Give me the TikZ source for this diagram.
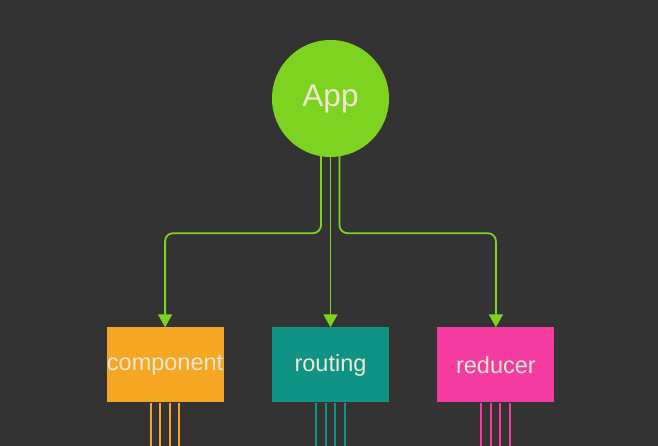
\documentclass[tikz,border=0pt]{standalone}
\usepackage{fontspec}
\setmainfont{Liberation Sans}
\usepackage{tikz}
\usetikzlibrary{positioning}
\usetikzlibrary{arrows.meta}
\definecolor{bgdark}{HTML}{333333}
\definecolor{appgreen}{HTML}{7ED321}
\definecolor{comporange}{HTML}{F5A623}
\definecolor{routeteal}{HTML}{0E9384}
\definecolor{reducepink}{HTML}{F43B9F}
\definecolor{labelcream}{HTML}{ECE8D2}

\tikzset{
  part/.style={rectangle, minimum width=117pt, minimum height=75pt, inner sep=0pt,
    text=labelcream, font=\fontsize{23.5}{26}\selectfont},
  flow/.style={draw=appgreen, line width=1.8pt, rounded corners=8pt,
    -{Triangle[width=14pt,length=13pt]}},
}

\begin{document}
\begin{tikzpicture}[x=1pt,y=1pt]
  \fill[bgdark] (0,0) rectangle (658,446);
  \useasboundingbox (0,0) rectangle (658,446);

  \node[circle, fill=appgreen, minimum size=117pt, inner sep=0pt, text=labelcream,
    font=\fontsize{31.5}{34}\selectfont] (app) at (330.5,347.5) {App};

  \node[part, fill=routeteal] (routing) at (330.5,81) {routing};
  \node[part, fill=comporange, left=48pt of routing] (component) {component};
  \node[part, fill=reducepink, right=48pt of routing] (reducer) {reducer};

  \draw[flow] ([shift={(-9.5pt,2pt)}]app.south) -- ++(0,-78) -| (component.north);
  \draw[flow] ([yshift=2pt]app.south) -- (routing.north);
  \draw[flow] ([shift={(9pt,2pt)}]app.south) -- ++(0,-78) -| (reducer.north);

  % wires leaving the bottom of each box
  \foreach \b/\c in {component/comporange, routing/routeteal, reducer/reducepink}
    \foreach \d in {-14.5,-5,4.5,14}
      \draw[\c, line width=2pt] ([xshift=\d pt]\b.south) -- ++(0,-50);
\end{tikzpicture}
\end{document}
